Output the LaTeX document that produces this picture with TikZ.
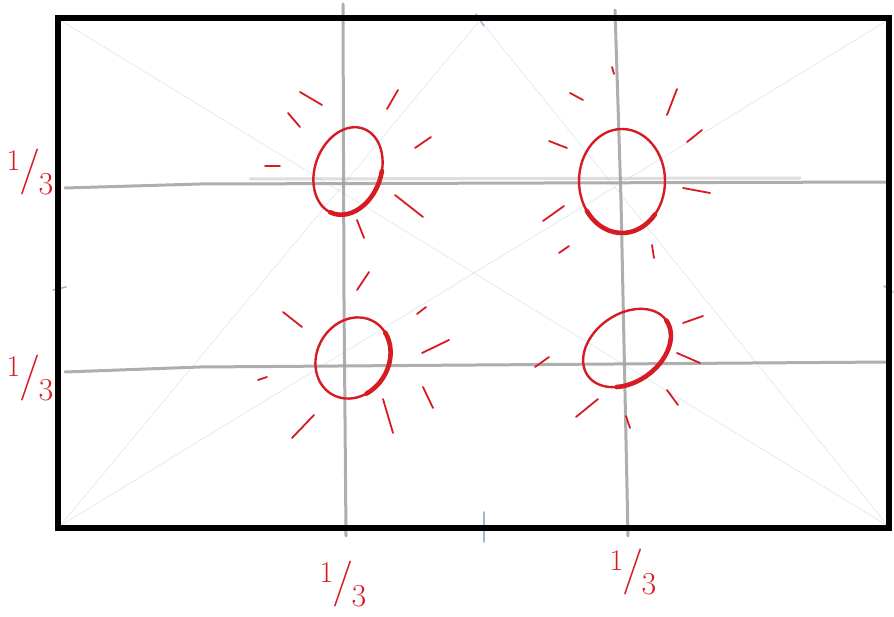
\documentclass[tikz,border=0pt]{standalone}
\usepackage{tikz}
\usetikzlibrary{calc}
\definecolor{sketchred}{RGB}{214,28,34}
\definecolor{guidegray}{RGB}{160,160,160}
\definecolor{guideblue}{RGB}{178,206,235}
% handwritten one third
\newcommand{\onethird}{{\fontsize{30}{30}\selectfont\raisebox{.42em}{1}}\kern-.14em{\fontsize{46}{46}\selectfont/}\kern-.16em{\fontsize{32}{32}\selectfont\raisebox{-.34em}{3}}}
% ring with its heavy side: cx, cy, angle, a, b, start, end
\newcommand{\ring}[7]{%
  \begin{scope}[shift={(#1,#2)},x=1pt,y=1pt,rotate=#3]
    \draw[ringline] (0,0) ellipse [x radius=#4pt, y radius=#5pt];
    \draw[ringheavy] ({#4*cos(#6)},{#5*sin(#6)}) arc [start angle=#6, end angle=#7, x radius=#4pt, y radius=#5pt];
  \end{scope}}

\begin{document}
\begin{tikzpicture}[
  x=1pt,y=-1pt,
  guide/.style={guidegray,line width=3pt,line cap=round,opacity=.85},
  helper/.style={guideblue,line width=.7pt,opacity=.45},
  tick/.style={guideblue!90!black,line width=1.6pt,line cap=round},
  frame/.style={draw=black,line width=6pt},
  ringline/.style={sketchred,line width=2.4pt},
  ringheavy/.style={sketchred,line width=4.6pt,line cap=round},
  ray/.style={sketchred,line width=1.8pt,line cap=round},
  third/.style={text=sketchred,inner sep=0pt}
]
  \useasboundingbox (0,0) rectangle (894,617);

  % faint construction lines
  \coordinate (tl) at (60,20);
  \coordinate (tr) at (888,20);
  \coordinate (bl) at (60,526);
  \coordinate (br) at (888,526);
  \coordinate (tm) at (480,20);
  \draw[helper] (tl) -- (br);
  \draw[helper] (tr) -- (bl);
  \draw[helper] (tm) -- (bl);
  \draw[helper] (tm) -- (br);
  \draw[tick] (476,14) -- (484,26);
  \draw[tick] (484,512) -- (484,542);
  \draw[tick] (53,290) -- (66,287);
  \draw[tick] (884,286) -- (893,292);

  % thirds
  \draw[guide] (343,4) -- (344,300) -- (346,536);
  \draw[guide] (615,10) -- (621,200) -- (628,536);
  \draw[guide] (65,188) -- (200,184) -- (890,182);
  \draw[guide,opacity=.35] (250,179) -- (800,178);
  \draw[guide] (65,372) -- (200,367) -- (890,362);

  \draw[frame] (58,18) rectangle (889,528);

  % hot spots
  \ring{348}{171}{70}{45}{33}{175}{285}
  \ring{622}{181}{0}{43}{52}{215}{320}
  \ring{353}{358}{60}{42}{36}{235}{335}
  \ring{627}{348}{35}{48}{34}{230}{360}

  \foreach \p/\q in {{300,92}/{322,105},{288,113}/{300,127},{387,109}/{398,90},
      {415,148}/{431,137},{265,166}/{280,166},{395,195}/{423,217},{357,220}/{364,238},
      {612,67}/{614,74},{570,93}/{583,100},{667,115}/{677,89},{549,141}/{567,148},
      {687,142}/{702,130},{683,188}/{710,193},{543,221}/{564,206},{559,253}/{569,246},
      {652,245}/{654,258},
      {357,290}/{369,272},{283,312}/{302,327},{417,314}/{426,307},{422,353}/{449,340},
      {258,380}/{267,377},{423,387}/{433,408},{383,399}/{393,433},{292,438}/{314,415},
      {535,367}/{549,357},{683,323}/{703,316},{677,353}/{700,363},{667,390}/{678,405},
      {576,417}/{598,399},{626,416}/{630,428}}
    \draw[ray] (\p) -- (\q);

  % labels
  \node[third] (rowtop) at (30,172) {\onethird};
  \node[third] (rowbot) at (30,378) {\onethird};
  \node[third] (colleft) at (343,584) {\onethird};
  \node[third] (colright) at (633,572) {\onethird};
\end{tikzpicture}
\end{document}
